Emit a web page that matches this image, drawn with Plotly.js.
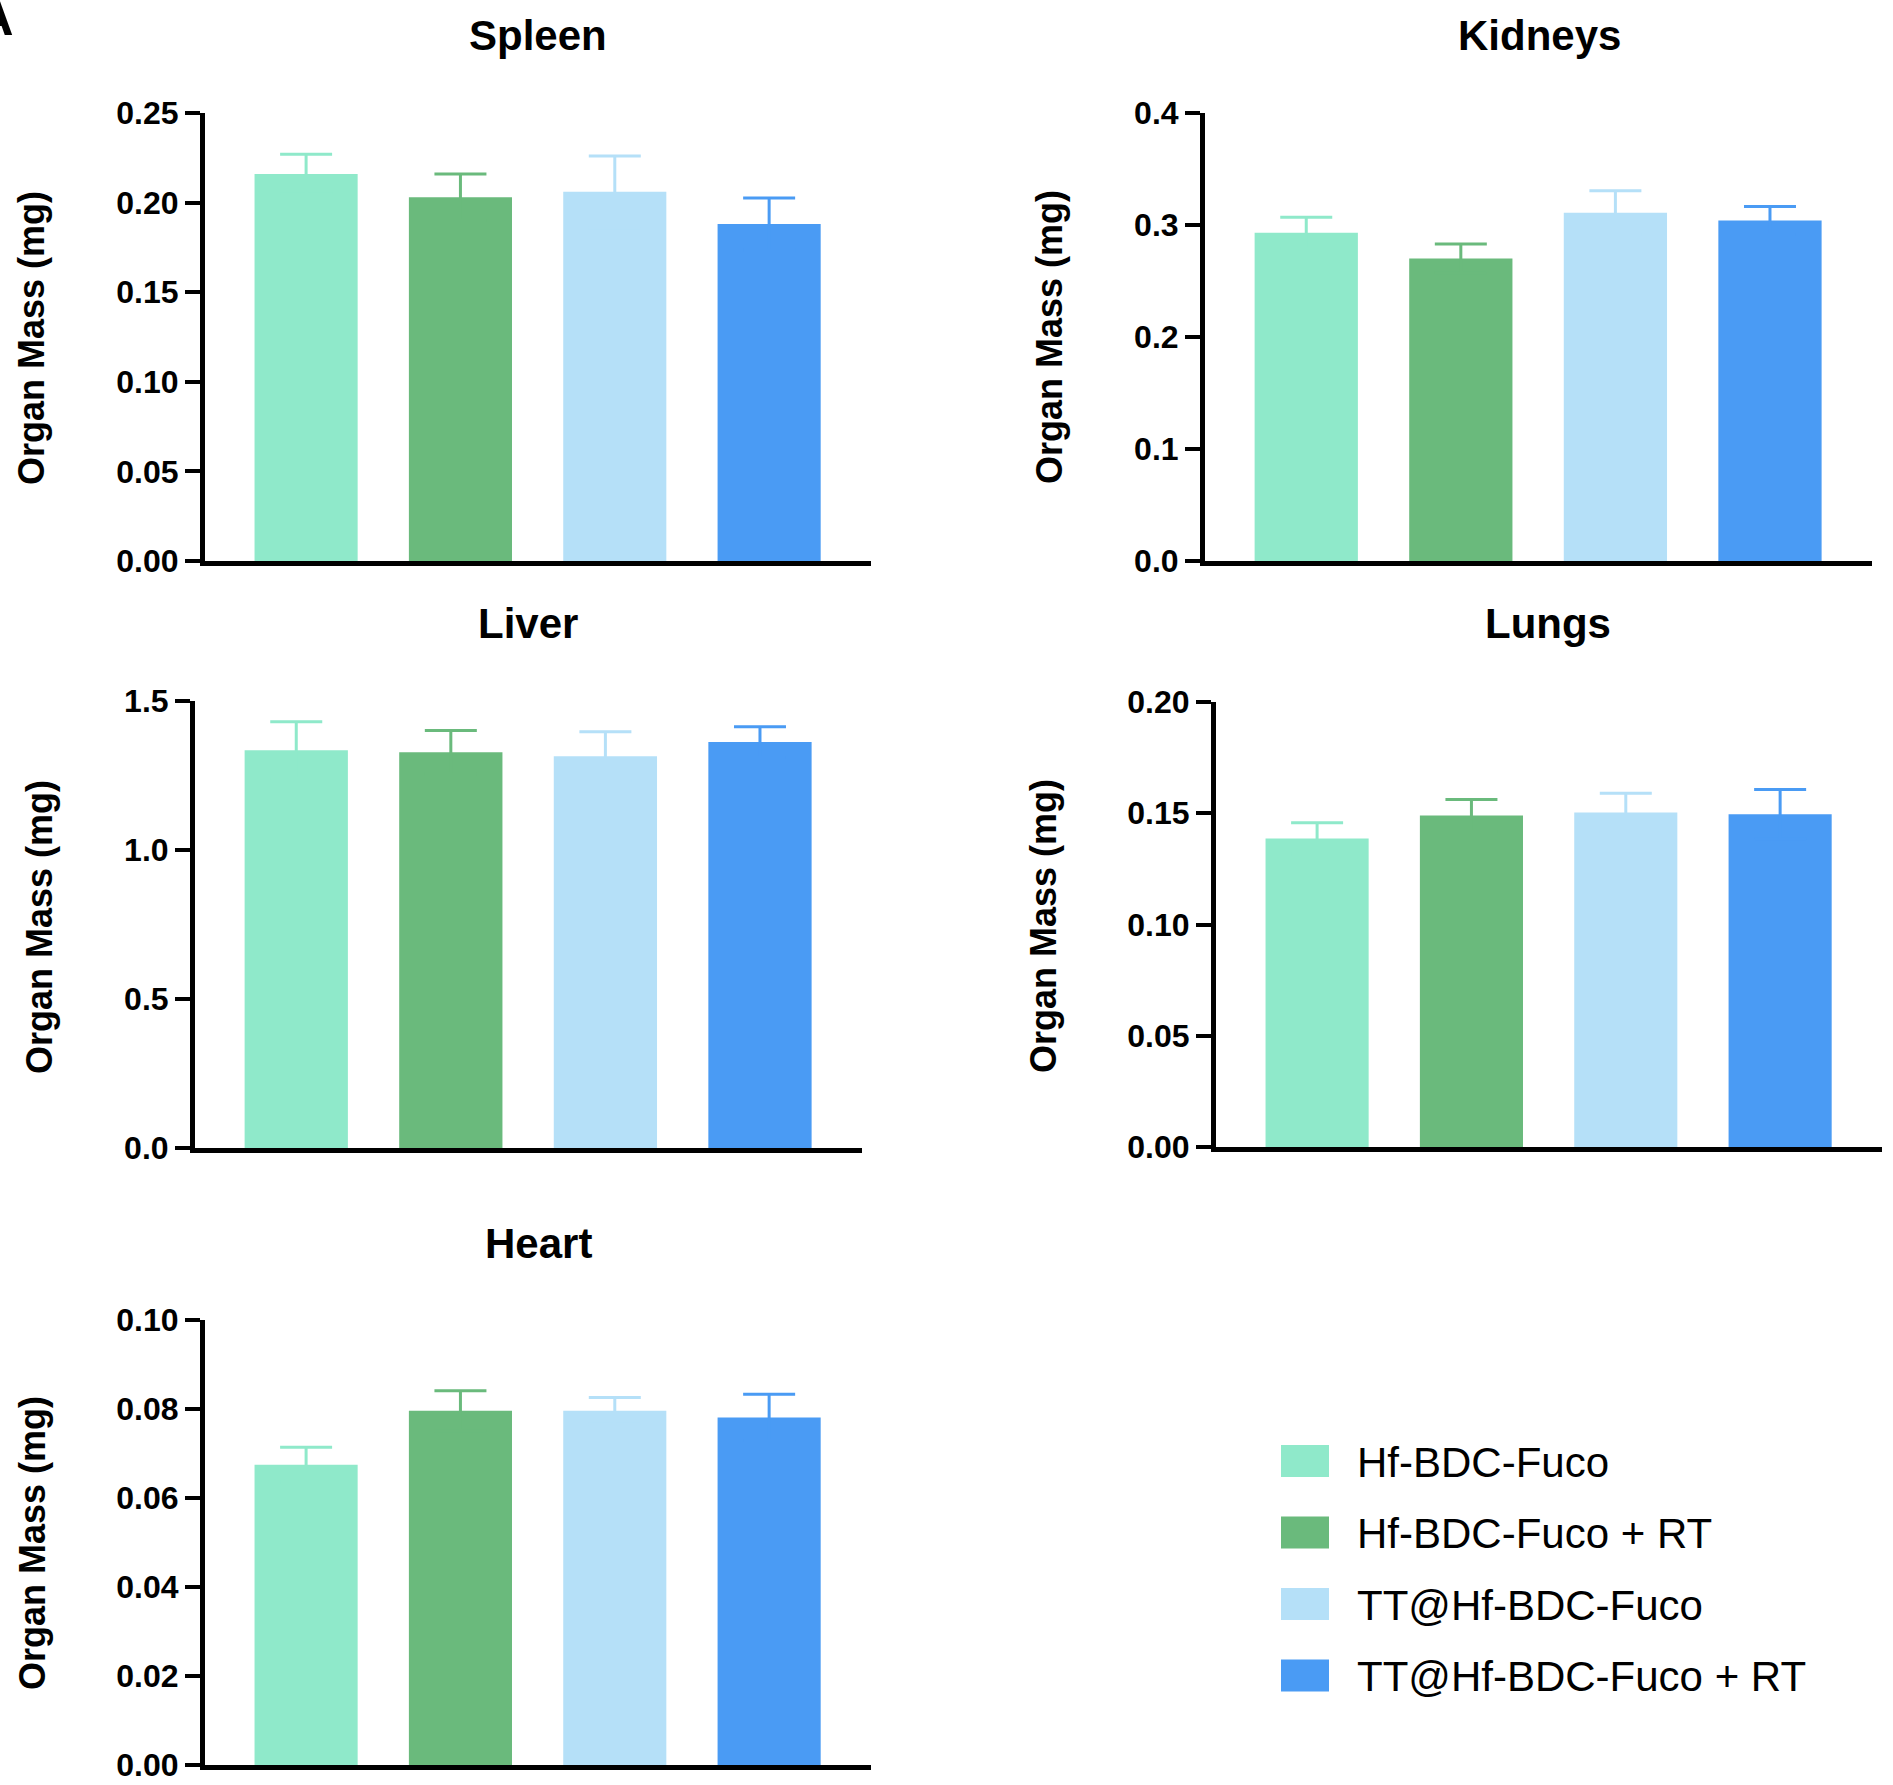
<!DOCTYPE html>
<html>
<head>
<meta charset="utf-8">
<script src="https://cdn.plot.ly/plotly-3.0.1.min.js"></script>
<style>
  html, body { margin: 0; padding: 0; background: #ffffff; }
  #chart { width: 1893px; height: 1785px; }
</style>
</head>
<body>
<div id="chart"></div>
<script>
// ---------- data ----------
const groups = ['Hf-BDC-Fuco', 'Hf-BDC-Fuco + RT', 'TT@Hf-BDC-Fuco', 'TT@Hf-BDC-Fuco + RT'];
const groupColors = ['#8FE9CA', '#6ABA7C', '#B5E0F8', '#4A9BF4'];
const organs = ['Spleen', 'Kidneys', 'Liver', 'Lungs', 'Heart'];
const yTitle = 'Organ Mass (mg)';

const spleenMean = [0.216, 0.203, 0.206, 0.188];
const spleenErr  = [0.011, 0.013, 0.020, 0.0145];
const kidneysMean = [0.293, 0.270, 0.311, 0.304];
const kidneysErr  = [0.014, 0.013, 0.0195, 0.0125];
const liverMean = [1.335, 1.328, 1.315, 1.362];
const liverErr  = [0.095, 0.073, 0.082, 0.052];
const lungsMean = [0.1387, 0.1490, 0.1503, 0.1495];
const lungsErr  = [0.0070, 0.0072, 0.0087, 0.0112];
const heartMean = [0.0675, 0.0796, 0.0796, 0.0781];
const heartErr  = [0.0039, 0.0045, 0.0030, 0.0052];

const yMax    = [0.25, 0.4, 1.5, 0.20, 0.10];
const yDtick  = [0.05, 0.1, 0.5, 0.05, 0.02];
const yFormat = ['.2f', '.1f', '.1f', '.2f', '.2f'];

const means = [spleenMean, kidneysMean, liverMean, lungsMean, heartMean];
const errs  = [spleenErr, kidneysErr, liverErr, lungsErr, heartErr];

// ---------- layout geometry (pixels) ----------
const W = 1893, H = 1785;
const FONT = 'Liberation Sans, Arial, Helvetica, sans-serif';
// [left, right, top, bottom] of each plot area in pixels
const panels = [
  [205, 871, 113, 561],    // Spleen
  [1205, 1872, 113, 561],  // Kidneys
  [195, 862, 701, 1148],   // Liver
  [1216, 1882, 702, 1147], // Lungs
  [205, 871, 1320, 1765]   // Heart
];
const titlePos = [[538, 35], [1539, 35], [528, 623], [1548, 623], [538, 1243]];
const yTitlePos = [[31, 338], [1049, 337], [39, 927], [1043, 926], [32, 1543]];

const px2x = p => p / W;
const px2y = p => 1 - p / H;

const traces = [];
const layout = {
  width: W, height: H,
  margin: {l: 0, r: 0, t: 0, b: 0},
  paper_bgcolor: '#ffffff',
  plot_bgcolor: 'rgba(0,0,0,0)',
  barmode: 'overlay',
  showlegend: false,
  font: {family: FONT, color: '#000000'},
  annotations: [],
  shapes: []
};

organs.forEach((organ, p) => {
  const sfx = p === 0 ? '' : String(p + 1);
  const [l, r, t, b] = panels[p];
  layout['xaxis' + sfx] = {
    domain: [px2x(l), px2x(r)],
    anchor: 'y' + sfx,
    range: [-0.655, 3.66],
    showline: true, linecolor: '#000000', linewidth: 5,
    showticklabels: false, ticks: '', showgrid: false, zeroline: false,
    fixedrange: true
  };
  layout['yaxis' + sfx] = {
    domain: [px2y(b), px2y(t)],
    anchor: 'x' + sfx,
    range: [0, yMax[p]],
    dtick: yDtick[p], tick0: 0, tickformat: yFormat[p],
    showline: true, linecolor: '#000000', linewidth: 5,
    ticks: 'outside', ticklen: 15, tickwidth: 4, tickcolor: '#000000',
    tickfont: {family: FONT, size: 32, color: '#000000', weight: 'bold'},
    ticklabelstandoff: 0,
    showgrid: false, zeroline: false, fixedrange: true
  };
  groups.forEach((g, i) => {
    traces.push({
      type: 'bar',
      name: g,
      x: [i],
      y: [means[p][i]],
      width: 0.668,
      xaxis: 'x' + sfx, yaxis: 'y' + sfx,
      marker: {color: groupColors[i], line: {width: 0}},
      error_y: {type: 'data', array: [errs[p][i]], symmetric: true,
                visible: true, color: groupColors[i], thickness: 3, width: 26},
      hoverinfo: 'skip'
    });
  });
  layout.annotations.push({
    text: organ, xref: 'paper', yref: 'paper',
    x: px2x(titlePos[p][0]), y: px2y(titlePos[p][1]),
    xanchor: 'center', yanchor: 'middle', showarrow: false,
    font: {family: FONT, size: 42, color: '#000000', weight: 'bold'}
  });
  layout.annotations.push({
    text: yTitle, xref: 'paper', yref: 'paper', textangle: -90,
    x: px2x(yTitlePos[p][0]), y: px2y(yTitlePos[p][1]),
    xanchor: 'center', yanchor: 'middle', showarrow: false,
    font: {family: FONT, size: 36, color: '#000000', weight: 'bold'}
  });
});

// ---------- custom legend ----------
const legendRows = [1461, 1532.5, 1604, 1675.5];
groups.forEach((g, i) => {
  const cy = legendRows[i];
  layout.shapes.push({
    type: 'rect', xref: 'paper', yref: 'paper',
    x0: px2x(1281), x1: px2x(1329),
    y0: px2y(cy + 16), y1: px2y(cy - 16),
    fillcolor: groupColors[i], line: {width: 0}
  });
  layout.annotations.push({
    text: g, xref: 'paper', yref: 'paper',
    x: px2x(1355), y: px2y(cy + 1),
    xanchor: 'left', yanchor: 'middle', showarrow: false,
    font: {family: FONT, size: 42, color: '#000000'}
  });
});

// panel letter (cropped at the left edge, as in the reference)
layout.annotations.push({
  text: 'A', xref: 'paper', yref: 'paper',
  x: px2x(16), y: px2y(48), xanchor: 'right', yanchor: 'bottom',
  showarrow: false,
  font: {family: FONT, size: 52, color: '#000000', weight: 'bold'}
});

Plotly.newPlot('chart', traces, layout, {staticPlot: true, displayModeBar: false});
</script>
</body>
</html>
